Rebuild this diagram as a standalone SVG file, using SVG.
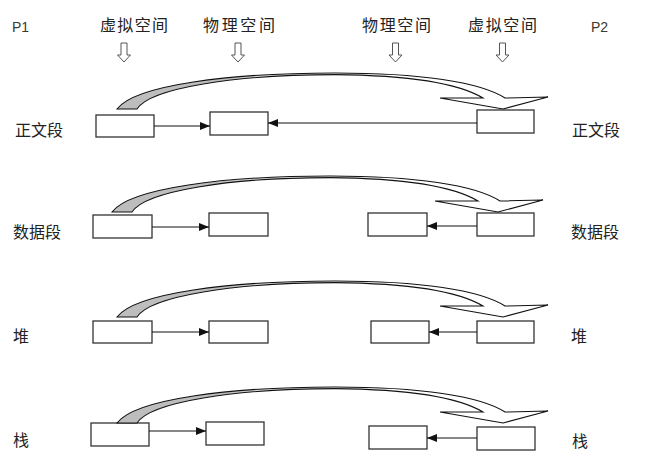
<svg xmlns="http://www.w3.org/2000/svg" xmlns:xlink="http://www.w3.org/1999/xlink" width="660" height="474" viewBox="0 0 660 474">
<style>
.t{font-family:"Noto Sans CJK SC","Noto Sans",sans-serif;font-size:16px;fill:#222}
.p{font-family:"Liberation Sans","Noto Sans",sans-serif;font-size:14px;fill:#3a3a30}
.box{fill:#fff;stroke:#333;stroke-width:1.3}
.ln{stroke:#111;stroke-width:1.1;fill:none;marker-end:url(#ah)}
.cv{fill:url(#g);stroke:#111;stroke-width:1.1;stroke-linejoin:miter}
.da{fill:#fff;stroke:#555;stroke-width:1}
</style>
<defs>
<marker id="ah" markerUnits="userSpaceOnUse" markerWidth="10" markerHeight="8" refX="10" refY="4" orient="auto">
<path d="M0,0 L10,4 L0,8 z" fill="#111"/>
</marker>
<linearGradient id="g" gradientUnits="userSpaceOnUse" x1="117" y1="0" x2="480" y2="0">
<stop offset="0" stop-color="#bdbdbd"/>
<stop offset="0.3" stop-color="#bdbdbd"/>
<stop offset="0.5" stop-color="#fff"/>
</linearGradient>
<path id="curve" class="cv" d="M117,109 C135,85 230,73 335,73 C420,73 480,82 505,98 L548,97 L503,109 L440,98 L483,98 C458,83 412,75.3 335,74.6 C235,74.6 150,88 137,109 Z"/>
<path id="down" class="da" d="M-3,43 h6 v12 h3.5 l-6.5,7 l-6.5,-7 h3.5 z"/>
</defs>

<g id="header">
<text class="p" x="12" y="32">P1</text>
<text class="t" x="100" y="31" textLength="68">虚拟空间</text>
<text class="t" x="203" y="31" textLength="72">物理空间</text>
<text class="t" x="362" y="31" textLength="69">物理空间</text>
<text class="t" x="468" y="31" textLength="69">虚拟空间</text>
<text class="p" x="591" y="32">P2</text>
<use xlink:href="#down" transform="translate(124,0)"/>
<use xlink:href="#down" transform="translate(238,0)"/>
<use xlink:href="#down" transform="translate(395.5,0)"/>
<use xlink:href="#down" transform="translate(502.5,0)"/>
</g>

<g id="labels">
<text class="t" x="15" y="136">正文段</text>
<text class="t" x="572" y="136">正文段</text>
<text class="t" x="13" y="238">数据段</text>
<text class="t" x="571" y="238">数据段</text>
<text class="t" x="13" y="342">堆</text>
<text class="t" x="571" y="342">堆</text>
<text class="t" x="13" y="446">栈</text>
<text class="t" x="572" y="447">栈</text>
</g>

<g id="row1">
<rect id="p1-text-v" class="box" x="96" y="115" width="58" height="22"/>
<rect id="text-phys" class="box" x="210" y="112" width="58" height="23"/>
<rect id="p2-text-v" class="box" x="477" y="110" width="57" height="23"/>
</g>
<g id="row2">
<rect id="p1-data-v" class="box" x="93" y="215" width="59" height="23"/>
<rect id="p1-data-phys" class="box" x="209" y="213" width="59" height="23"/>
<rect id="p2-data-phys" class="box" x="368" y="213" width="59" height="23"/>
<rect id="p2-data-v" class="box" x="477" y="213" width="57" height="23"/>
</g>
<g id="row3">
<rect id="p1-heap-v" class="box" x="93" y="321" width="59" height="22"/>
<rect id="p1-heap-phys" class="box" x="209" y="321" width="59" height="22"/>
<rect id="p2-heap-phys" class="box" x="371" y="321" width="58" height="22"/>
<rect id="p2-heap-v" class="box" x="477" y="321" width="57" height="22"/>
</g>
<g id="row4">
<rect id="p1-stack-v" class="box" x="91" y="423" width="58" height="23"/>
<rect id="p1-stack-phys" class="box" x="206" y="422" width="58" height="23"/>
<rect id="p2-stack-phys" class="box" x="369" y="426" width="58" height="23"/>
<rect id="p2-stack-v" class="box" x="477" y="427" width="58" height="23"/>
</g>

<g id="connectors">
<line class="ln" x1="154" y1="126" x2="210" y2="126"/>
<line class="ln" x1="477" y1="123" x2="268" y2="123"/>
<line class="ln" x1="152" y1="227" x2="209" y2="227"/>
<line class="ln" x1="477" y1="226" x2="427" y2="226"/>
<line class="ln" x1="152" y1="332" x2="209" y2="332"/>
<line class="ln" x1="477" y1="332" x2="429" y2="332"/>
<line class="ln" x1="149" y1="431" x2="206" y2="431"/>
<line class="ln" x1="477" y1="438" x2="427" y2="438"/>
<use xlink:href="#curve"/>
<use xlink:href="#curve" transform="translate(-5,103)"/>
<use xlink:href="#curve" transform="translate(0,208)"/>
<use xlink:href="#curve" transform="translate(0,314)"/>
</g>
</svg>
